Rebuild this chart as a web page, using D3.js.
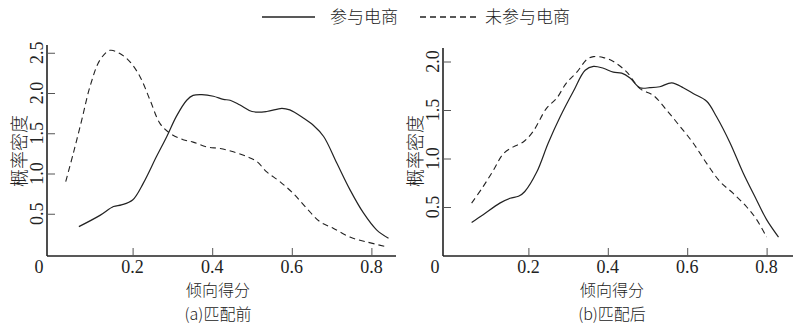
<!DOCTYPE html>
<html><head><meta charset="utf-8">
<script src="https://cdn.jsdelivr.net/npm/d3@7"></script>
<style>
body{margin:0;background:#fff;}
svg{display:block;}
.num{font-family:"Liberation Serif","Times New Roman",serif;font-size:18px;fill:#222;}
.cjk{font-family:"Noto Sans CJK SC",sans-serif;font-weight:300;fill:#222;}
</style></head><body>
<svg id="c" width="799" height="331"></svg>
<script>
// ---- data ----
const legendLabels = ["参与电商", "未参与电商"];
const xTicks = [0.2, 0.4, 0.6, 0.8];
const yTicksA = [0.5, 1.0, 1.5, 2.0, 2.5];
const yTicksB = [0.5, 1.0, 1.5, 2.0];
const xTitle = "倾向得分";
const yTitle = "概率密度";
const panelTitles = ["(a)匹配前", "(b)匹配后"];

// (a) before matching
const beforeTreatX = [0.065,0.118,0.152,0.172,0.20,0.227,0.26,0.286,0.31,0.336,0.352,0.374,0.403,0.428,0.445,0.47,0.50,0.537,0.575,0.595,0.629,0.654,0.68,0.713,0.746,0.78,0.813,0.843];
const beforeTreatY = [0.34,0.48,0.59,0.61,0.67,0.88,1.21,1.46,1.71,1.91,1.97,1.98,1.96,1.92,1.91,1.85,1.77,1.77,1.81,1.79,1.69,1.60,1.46,1.13,0.80,0.51,0.30,0.195];
const beforeCtrlX = [0.032,0.051,0.072,0.093,0.118,0.143,0.168,0.193,0.219,0.244,0.269,0.294,0.327,0.352,0.386,0.42,0.453,0.487,0.512,0.537,0.57,0.604,0.637,0.671,0.704,0.746,0.788,0.838];
const beforeCtrlY = [0.90,1.25,1.66,2.08,2.41,2.53,2.49,2.39,2.20,1.91,1.62,1.50,1.42,1.39,1.33,1.31,1.27,1.21,1.15,1.02,0.90,0.75,0.57,0.40,0.32,0.21,0.15,0.09];

// (b) after matching
const afterTreatX = [0.057,0.086,0.128,0.154,0.175,0.191,0.221,0.25,0.28,0.313,0.343,0.364,0.389,0.414,0.435,0.456,0.481,0.506,0.531,0.561,0.59,0.615,0.649,0.674,0.708,0.741,0.775,0.80,0.83];
const afterTreatY = [0.34,0.42,0.54,0.59,0.61,0.66,0.86,1.16,1.43,1.69,1.91,1.95,1.93,1.89,1.88,1.83,1.73,1.73,1.74,1.78,1.73,1.67,1.59,1.43,1.16,0.85,0.57,0.37,0.19];
const afterCtrlX = [0.057,0.086,0.112,0.137,0.162,0.187,0.212,0.246,0.271,0.296,0.322,0.347,0.364,0.389,0.414,0.448,0.481,0.515,0.548,0.582,0.615,0.649,0.683,0.716,0.75,0.775,0.80];
const afterCtrlY = [0.54,0.71,0.88,1.05,1.12,1.17,1.28,1.52,1.62,1.78,1.89,2.02,2.05,2.04,2.0,1.89,1.72,1.65,1.50,1.33,1.16,0.95,0.76,0.64,0.50,0.37,0.19];

const zip = (xs, ys) => xs.map((x, i) => [x, ys[i]]);

const svg = d3.select("#c");
const ink = "#222";

function panel(o) {
  const g = svg.append("g");
  const x = d3.scaleLinear().domain([0, 0.8]).range([o.x0, o.x08]);
  const y = d3.scaleLinear().domain([0, o.yMax]).range([o.y0, o.yTop]);
  // axis lines
  g.append("line").attr("x1", o.axX).attr("x2", o.axX).attr("y1", o.axTop).attr("y2", o.base)
    .attr("stroke", ink).attr("stroke-width", 1.6);
  g.append("line").attr("x1", o.axX).attr("x2", o.axRight).attr("y1", o.base).attr("y2", o.base)
    .attr("stroke", ink).attr("stroke-width", 1.6);
  // x ticks
  const xa = g.append("g").attr("transform", `translate(0,${o.base})`)
    .call(d3.axisTop(x).tickValues(xTicks).tickSize(8).tickFormat(d3.format(".1f")).tickSizeOuter(0));
  xa.select(".domain").remove();
  xa.selectAll(".tick line").attr("stroke", "#555").attr("stroke-width", 1);
  xa.selectAll(".tick text").remove();
  g.selectAll(".xl").data(xTicks).join("text").attr("class", "num")
    .attr("x", d => x(d)).attr("y", o.base + 17).attr("text-anchor", "middle")
    .text(d3.format(".1f"));
  g.append("text").attr("class", "num").attr("x", o.axX - 8).attr("y", o.base + 17)
    .attr("text-anchor", "middle").text("0");
  // y ticks
  const ya = g.append("g").attr("transform", `translate(${o.axX},0)`)
    .call(d3.axisRight(y).tickValues(o.yTicks).tickSize(8).tickSizeOuter(0));
  ya.select(".domain").remove();
  ya.selectAll(".tick line").attr("stroke", "#555").attr("stroke-width", 1);
  ya.selectAll(".tick text").remove();
  g.selectAll(".yl").data(o.yTicks).join("text").attr("class", "num")
    .attr("transform", d => `translate(${o.axX - 4},${y(d)}) rotate(-90)`)
    .attr("text-anchor", "middle")
    .text(d3.format(".1f"));
  // titles
  g.append("text").attr("class", "cjk").style("font-size", "18px")
    .attr("transform", `translate(${o.axX - 21},151) rotate(-90)`)
    .attr("text-anchor", "middle").text(yTitle);
  g.append("text").attr("class", "cjk").style("font-size", "16px")
    .attr("x", o.cx).attr("y", 296).attr("text-anchor", "middle").text(xTitle);
  g.append("text").attr("class", "cjk").style("font-size", "16px")
    .attr("x", o.cx).attr("y", 320).attr("text-anchor", "middle").text(o.title);
  // curves
  const line = d3.line().x(d => x(d[0])).y(d => y(d[1])).curve(d3.curveCatmullRom.alpha(0.5));
  g.append("path").datum(o.treat).attr("d", line).attr("fill", "none")
    .attr("stroke", ink).attr("stroke-width", 1.2);
  g.append("path").datum(o.ctrl).attr("d", line).attr("fill", "none")
    .attr("stroke", ink).attr("stroke-width", 1.1).attr("stroke-dasharray", "6,4");
}

panel({x0: 53, x08: 371.4, yMax: 2.5, y0: 254, yTop: 52.75, axX: 47, axTop: 45, base: 256, axRight: 396,
  yTicks: yTicksA, cx: 218, title: panelTitles[0],
  treat: zip(beforeTreatX, beforeTreatY), ctrl: zip(beforeCtrlX, beforeCtrlY)});
panel({x0: 449, x08: 766.6, yMax: 2.0, y0: 255.5, yTop: 61.5, axX: 443, axTop: 48, base: 256, axRight: 793,
  yTicks: yTicksB, cx: 612, title: panelTitles[1],
  treat: zip(afterTreatX, afterTreatY), ctrl: zip(afterCtrlX, afterCtrlY)});

// legend
const lg = svg.append("g");
lg.append("line").attr("x1", 262).attr("x2", 315).attr("y1", 17).attr("y2", 17)
  .attr("stroke", ink).attr("stroke-width", 1.4);
lg.append("text").attr("class", "cjk").style("font-size", "17px").attr("x", 330).attr("y", 23).text(legendLabels[0]);
lg.append("line").attr("x1", 420).attr("x2", 476).attr("y1", 17).attr("y2", 17)
  .attr("stroke", ink).attr("stroke-width", 1.4).attr("stroke-dasharray", "6,4");
lg.append("text").attr("class", "cjk").style("font-size", "17px").attr("x", 485).attr("y", 23).text(legendLabels[1]);
</script>
</body></html>
